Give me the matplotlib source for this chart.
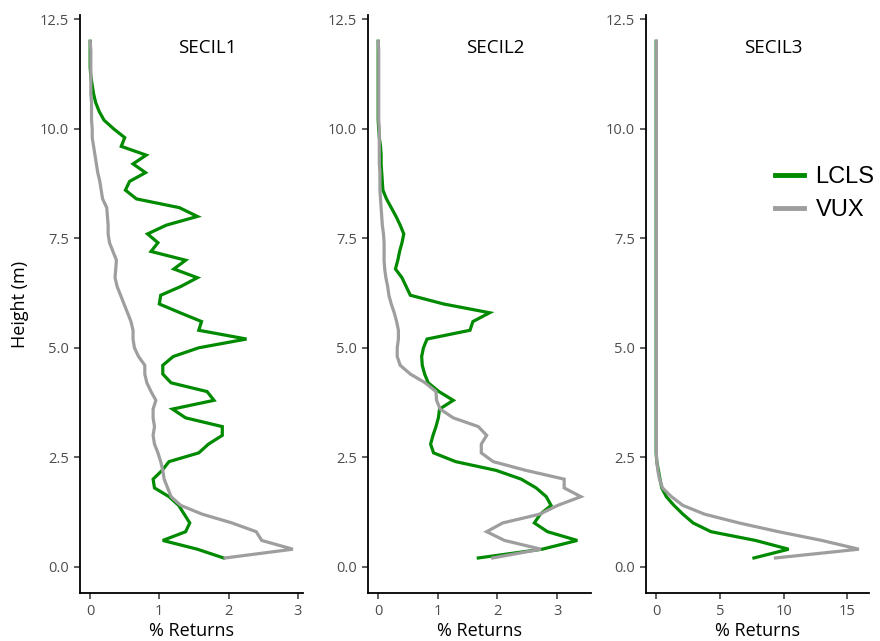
import matplotlib
matplotlib.use("Agg")
import matplotlib.pyplot as plt
import numpy as np

# heights of the profile bins (m)
heights = [round(0.2 * i, 1) for i in range(1, 61)]

# % returns per height bin
secil1_lcls = [1.93, 1.55, 1.05, 1.38, 1.44, 1.36, 1.28, 1.14, 0.93, 0.91,
               1.04, 1.14, 1.57, 1.71, 1.91, 1.91, 1.38, 1.19, 1.79, 1.69,
               1.17, 1.05, 1.05, 1.20, 1.57, 2.26, 1.57, 1.61, 1.30, 1.00,
               1.02, 1.31, 1.55, 1.21, 1.38, 0.88, 0.98, 0.83, 1.10, 1.55,
               1.29, 0.67, 0.51, 0.57, 0.80, 0.62, 0.81, 0.45, 0.50, 0.34,
               0.20, 0.13, 0.08, 0.05, 0.03, 0.01, 0.0, 0.0, 0.0, 0.0]
secil1_vux = [1.95, 2.93, 2.48, 2.40, 2.05, 1.62, 1.31, 1.17, 1.12, 1.07,
              1.05, 1.02, 0.98, 0.93, 0.91, 0.93, 0.91, 0.91, 0.95, 0.88,
              0.82, 0.79, 0.79, 0.70, 0.64, 0.62, 0.62, 0.59, 0.54, 0.49,
              0.44, 0.39, 0.36, 0.37, 0.38, 0.33, 0.28, 0.26, 0.26, 0.25,
              0.24, 0.18, 0.16, 0.14, 0.11, 0.09, 0.07, 0.05, 0.03, 0.03,
              0.02, 0.02, 0.02, 0.01, 0.01, 0.01, 0.01, 0.01, 0.01, 0.0]

secil2_lcls = [1.68, 2.75, 3.34, 2.84, 2.62, 2.72, 2.90, 2.82, 2.65, 2.40,
               1.98, 1.30, 0.93, 0.88, 0.92, 0.97, 1.01, 1.03, 1.26, 1.02,
               0.84, 0.78, 0.74, 0.73, 0.76, 0.82, 1.54, 1.59, 1.87, 1.10,
               0.54, 0.47, 0.40, 0.29, 0.33, 0.36, 0.40, 0.43, 0.37, 0.30,
               0.22, 0.14, 0.08, 0.07, 0.06, 0.05, 0.05, 0.04, 0.02, 0.01,
               0.0, 0.0, 0.0, 0.0, 0.0, 0.0, 0.0, 0.0, 0.0, 0.0]
secil2_vux = [1.92, 2.73, 2.12, 1.82, 2.09, 2.71, 3.01, 3.40, 3.12, 3.12,
              2.48, 1.93, 1.73, 1.73, 1.82, 1.68, 1.26, 1.04, 0.98, 0.97,
              0.79, 0.54, 0.37, 0.32, 0.32, 0.34, 0.34, 0.31, 0.27, 0.22,
              0.18, 0.16, 0.13, 0.11, 0.10, 0.10, 0.10, 0.09, 0.07, 0.06,
              0.05, 0.04, 0.03, 0.03, 0.03, 0.02, 0.02, 0.02, 0.02, 0.02,
              0.01, 0.01, 0.01, 0.01, 0.01, 0.01, 0.01, 0.01, 0.01, 0.0]

secil3_lcls = [7.67, 10.39, 7.80, 4.30, 2.90, 2.10, 1.40, 0.80, 0.44, 0.30,
               0.18, 0.05] + [0.0] * 48
secil3_vux = [9.36, 15.9, 13.0, 9.60, 6.50, 3.80, 2.10, 1.20, 0.50, 0.26,
              0.13, 0.05] + [0.02] * 48

sites = ["SECIL1", "SECIL2", "SECIL3"]
lcls = [secil1_lcls, secil2_lcls, secil3_lcls]
vux = [secil1_vux, secil2_vux, secil3_vux]
xticks = [[0, 1, 2, 3], [0, 1, 2, 3], [0, 5, 10, 15]]

GREEN = "#008a00"
GREY = "#9e9e9e"
TICK_GREY = "#4d4d4d"

plt.rcParams["font.family"] = ["Open Sans", "DejaVu Sans"]

fig = plt.figure(figsize=(8.8, 6.41), dpi=100)
lefts = [80, 368, 646]
axes = []
for i, site in enumerate(sites):
    ax = fig.add_axes([lefts[i] / 880, 48 / 641, 223 / 880, 578 / 641])
    axes.append(ax)
    l1, = ax.plot(lcls[i], heights, color=GREEN, lw=2.3, solid_joinstyle="miter",
                  label="LCLS")
    l2, = ax.plot(vux[i], heights, color=GREY, lw=2.3, solid_joinstyle="miter",
                  label="VUX")

    xmax = max(max(lcls[i]), max(vux[i]))
    ax.set_xlim(-0.05 * xmax, 1.05 * xmax)
    ax.set_ylim(-0.6, 12.6)
    ax.set_xticks(xticks[i])
    ax.set_yticks([0, 2.5, 5, 7.5, 10, 12.5])
    ax.set_yticklabels(["0.0", "2.5", "5.0", "7.5", "10.0", "12.5"])

    for s in ["top", "right"]:
        ax.spines[s].set_visible(False)
    for s in ["left", "bottom"]:
        ax.spines[s].set_linewidth(1.3)
        ax.spines[s].set_color("black")
    ax.tick_params(colors="#333333", labelcolor=TICK_GREY, labelsize=10.5,
                   length=4, width=1.1, pad=4)
    ax.set_xlabel("% Returns", fontsize=13, color="black", labelpad=2)
    ax.text(0.57, 0.943, site, transform=ax.transAxes, ha="center",
            va="center", fontsize=13.5, color="black")

axes[0].set_ylabel("Height (m)", fontsize=13, color="black", labelpad=8)

leg = axes[2].legend(handles=[l1, l2], loc="center left",
                     bbox_to_anchor=(0.485, 0.691), frameon=False,
                     prop={"family": "Liberation Sans", "size": 17},
                     handlelength=1.2, handletextpad=0.5, labelspacing=0.48)
for line in leg.get_lines():
    line.set_linewidth(3.5)

fig.savefig("out.png", dpi=100)
